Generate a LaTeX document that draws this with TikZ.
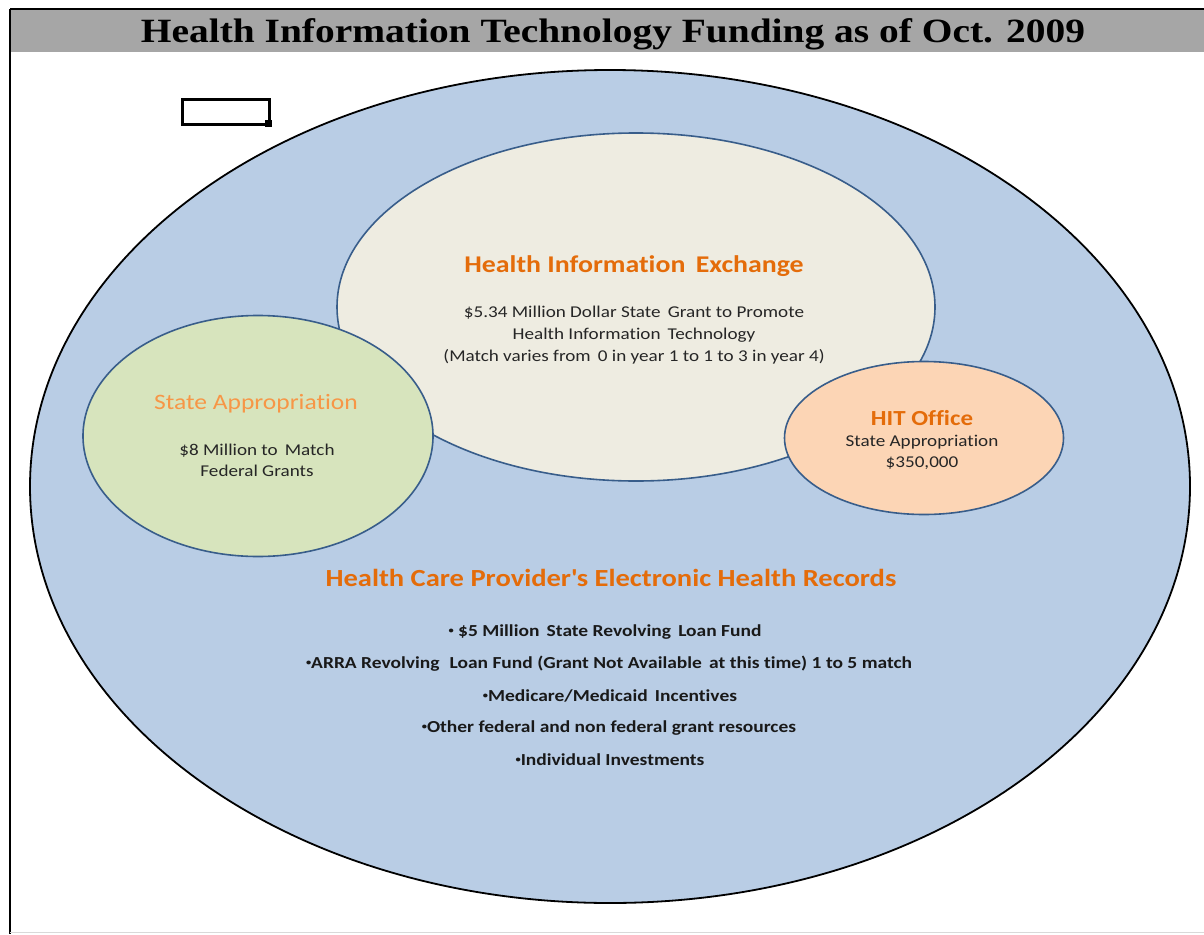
\documentclass[tikz,border=0pt]{standalone}
\usepackage{fontspec}
\setmainfont{Liberation Serif}
\setsansfont{Carlito}[FakeStretch = 1.16, Ligatures = NoCommon, RawFeature = {-calt;-clig}]
\newfontfamily\titlefont{Liberation Serif}[FakeStretch = 1.16]
\usepackage{xcolor}
\usepackage{tikz}
\usetikzlibrary{shapes.geometric}

\definecolor{bluefill}{HTML}{B9CDE5}
\definecolor{beigefill}{HTML}{EEECE1}
\definecolor{greenfill}{HTML}{D7E4BD}
\definecolor{peachfill}{HTML}{FCD5B5}
\definecolor{shapeline}{HTML}{385D8A}
\definecolor{darkorange}{HTML}{E46C0A}
\definecolor{lightorange}{HTML}{F79646}
\definecolor{bargray}{HTML}{A6A6A6}

\newcommand{\dotmark}{\raisebox{0.35ex}{\fontsize{9}{9}\selectfont\textbullet}}

\tikzset{
    blob/.style = {ellipse, draw = shapeline, line width = 1.6pt, inner sep = 0pt},
    headtext/.style = {font = \sffamily\bfseries\fontsize{24}{28}\selectfont, text = darkorange},
    bodytext/.style = {font = \sffamily\fontsize{16.5}{22}\selectfont, text = black!85, align = center},
    listtext/.style = {font = \sffamily\bfseries\fontsize{16.8}{18}\selectfont, text = black!90}
}

\begin{document}
\begin{tikzpicture}[x = 1pt, y = -1pt]
        \useasboundingbox (0, 0) rectangle (1204, 934);

        % frame and title bar
        \fill[bargray] (10, 10) rectangle (1204, 52);
        \draw[line width = 1.5pt] (10, 9) -- (1204, 9);
        \draw[line width = 1.5pt] (10, 9) -- (10, 934);
        \draw[black!15, line width = 1pt] (10, 932) -- (1204, 932);
        \node (title) at (613, 34)
            {\titlefont\bfseries\fontsize{34}{40}\selectfont Health Information Technology Funding as of Oct. 2009};

        % empty box
        \filldraw[color = black, fill = white, line width = 3pt] (182, 99) rectangle (269, 124);
        \fill (265, 120) rectangle (272, 127);

        % ellipses
        \node[ellipse, draw = black, line width = 1.8pt, fill = bluefill, inner sep = 0pt,
            minimum width = 1160pt, minimum height = 833pt] (ehr) at (610, 486.5) {};
        \node[blob, fill = beigefill, minimum width = 598pt, minimum height = 348pt] (hie) at (636, 307) {};
        \node[blob, fill = greenfill, minimum width = 350pt, minimum height = 241pt] (stateapp) at (258, 436) {};
        \node[blob, fill = peachfill, minimum width = 279pt, minimum height = 153pt] (hit) at (924, 438) {};

        % health information exchange
        \node[headtext] (hiehead) at (634, 266) {Health Information\, Exchange};
        \node[bodytext] (hiebody) at (634, 335)
            {\$5.34 Million Dollar State\, Grant to Promote\\
             Health Information\, Technology\\
             (Match varies from\, 0 in year 1 to 1 to 3 in year 4)};

        % state appropriation
        \node[headtext, font = \sffamily\fontsize{22}{26}\selectfont, text = lightorange] (apphead) at (256, 404)
            {State Appropriation};
        \node[bodytext, font = \sffamily\fontsize{16.5}{21}\selectfont] (appbody) at (257, 460)
            {\$8 Million to\, Match\\ Federal Grants};

        % hit office
        \node[headtext, font = \sffamily\bfseries\fontsize{21.5}{26}\selectfont] (hithead) at (922, 418) {HIT Office};
        \node[bodytext, font = \sffamily\fontsize{16.5}{21}\selectfont] (hitbody) at (922, 452)
            {State Appropriation\\ \$350,000};

        % provider records
        \node[headtext, font = \sffamily\bfseries\fontsize{24.6}{28}\selectfont] (ehrhead) at (611, 578)
            {Health Care Provider\textquotesingle s Electronic Health Records};
        \node[listtext] (item1) at (605, 632) {\dotmark\ \$5 Million\, State Revolving\, Loan Fund};
        \node[listtext] (item2) at (609, 664)
            {\dotmark ARRA Revolving\,\, Loan Fund (Grant Not Available\, at this time) 1 to 5 match};
        \node[listtext] (item3) at (610, 696) {\dotmark Medicare/Medicaid\, Incentives};
        \node[listtext] (item4) at (609, 728) {\dotmark Other federal and non federal grant resources};
        \node[listtext] (item5) at (610, 760) {\dotmark Individual Investments};
    \end{tikzpicture}
\end{document}
